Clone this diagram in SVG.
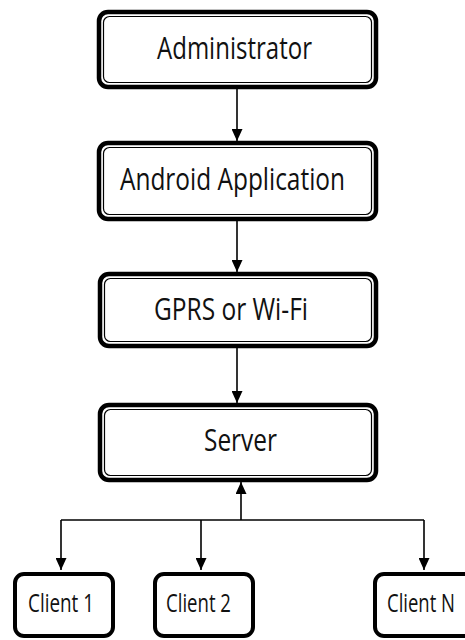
<svg xmlns="http://www.w3.org/2000/svg" width="465" height="640" viewBox="0 0 465 640">
<defs>
<style>
.outer{fill:#fff;stroke:#000;stroke-width:4.5}
.inner{fill:#fff;stroke:#000;stroke-width:1.2}
.client{fill:#fff;stroke:#000;stroke-width:4}
.lbl{font-family:"Open Sans","Noto Sans","DejaVu Sans",sans-serif;font-size:31px;fill:#111}
.clbl{font-family:"Open Sans","Noto Sans","DejaVu Sans",sans-serif;font-size:25px;fill:#111}
.conn{stroke:#000;stroke-width:1.6;fill:none}
</style>
<marker id="arr" markerUnits="userSpaceOnUse" markerWidth="12" markerHeight="11" refX="12" refY="5.5" orient="auto">
<path d="M0,0 L12,5.5 L0,11 z" fill="#000"/>
</marker>
</defs>
<rect width="465" height="640" fill="#fff"/>
<g id="connectors">
<line class="conn" x1="237" y1="89" x2="237" y2="141" marker-end="url(#arr)"/>
<line class="conn" x1="237" y1="221" x2="237" y2="272" marker-end="url(#arr)"/>
<line class="conn" x1="237" y1="348" x2="237" y2="403" marker-end="url(#arr)"/>
<line class="conn" x1="241" y1="520" x2="241" y2="482" marker-end="url(#arr)"/>
<line class="conn" x1="61" y1="520" x2="424" y2="520"/>
<line class="conn" x1="61" y1="520" x2="61" y2="570" marker-end="url(#arr)"/>
<line class="conn" x1="201" y1="520" x2="201" y2="570" marker-end="url(#arr)"/>
<line class="conn" x1="424" y1="520" x2="424" y2="570" marker-end="url(#arr)"/>
</g>
<g id="administrator">
<rect class="outer" x="99" y="12" width="277" height="75" rx="9"/>
<rect class="inner" x="103.5" y="16.5" width="268" height="66" rx="6"/>
<text class="lbl" x="157" y="59" textLength="155" lengthAdjust="spacingAndGlyphs">Administrator</text>
</g>
<g id="android">
<rect class="outer" x="99" y="143" width="277" height="76" rx="9"/>
<rect class="inner" x="103.5" y="147.5" width="268" height="67" rx="6"/>
<text class="lbl" x="120" y="190" textLength="225" lengthAdjust="spacingAndGlyphs">Android Application</text>
</g>
<g id="gprs">
<rect class="outer" x="100" y="274" width="276" height="72" rx="9"/>
<rect class="inner" x="104.5" y="278.5" width="267" height="63" rx="6"/>
<text class="lbl" x="154" y="320" textLength="154" lengthAdjust="spacingAndGlyphs">GPRS or Wi-Fi</text>
</g>
<g id="server">
<rect class="outer" x="100" y="405" width="276" height="75" rx="9"/>
<rect class="inner" x="104.5" y="409.5" width="267" height="66" rx="6"/>
<text class="lbl" x="204" y="451" textLength="73" lengthAdjust="spacingAndGlyphs">Server</text>
</g>
<g id="client1">
<rect class="client" x="15" y="574" width="98" height="62" rx="9"/>
<text class="clbl" x="28" y="612" textLength="66" lengthAdjust="spacingAndGlyphs">Client 1</text>
</g>
<g id="client2">
<rect class="client" x="155" y="574" width="98" height="62" rx="9"/>
<text class="clbl" x="166" y="612" textLength="65" lengthAdjust="spacingAndGlyphs">Client 2</text>
</g>
<g id="clientN">
<rect class="client" x="375" y="574" width="98" height="62" rx="9"/>
<text class="clbl" x="387" y="612" textLength="68" lengthAdjust="spacingAndGlyphs">Client N</text>
</g>
</svg>
